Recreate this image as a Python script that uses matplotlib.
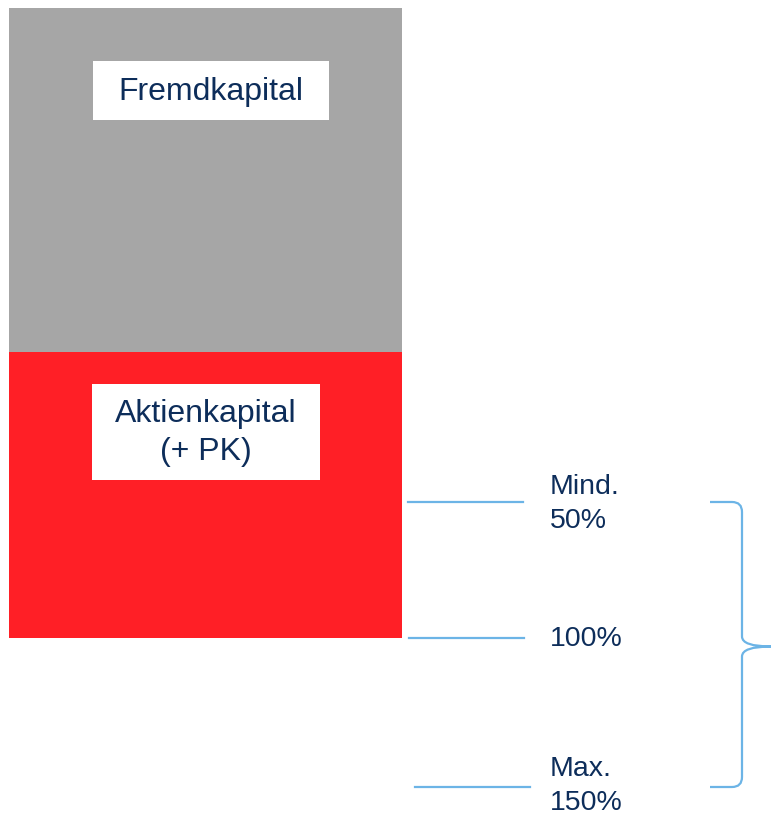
import matplotlib.pyplot as plt
from matplotlib.patches import Rectangle
from matplotlib.path import Path
from matplotlib.patches import PathPatch

plt.rcParams['font.family'] = ['Liberation Sans', 'DejaVu Sans']

# Kapitalblöcke (Höhen in Pixel-Einheiten der Vorlage, von oben nach unten)
bloecke = ['Fremdkapital', 'Aktienkapital\n(+ PK)']
hoehen = [344, 286]
farben = ['#a6a6a6', '#ff1f26']

# Markierungen rechts neben dem Block
marken = ['Mind.\n50%', '100%', 'Max.\n150%']
marken_y = [502, 638, 787]

text_farbe = '#0d2d5a'
linie_farbe = '#6cb4e6'

fig = plt.figure(figsize=(7.71, 8.17), dpi=100)
ax = fig.add_axes([0, 0, 1, 1])
ax.set_xlim(0, 771)
ax.set_ylim(817, 0)
ax.axis('off')

# gestapelte Balken
oben = 8
x0, breite = 9, 393
for name, h, f in zip(bloecke, hoehen, farben):
    ax.bar(x0, h, width=breite, bottom=oben, color=f, align='edge', linewidth=0)
    oben += h

# Beschriftungen mit weißen Boxen
ax.add_patch(Rectangle((93, 61), 236, 59, facecolor='white', edgecolor='none'))
ax.text(211, 92, bloecke[0], ha='center', va='center', fontsize=23, color=text_farbe)
ax.add_patch(Rectangle((92, 384), 228, 96, facecolor='white', edgecolor='none'))
ax.text(206, 433, bloecke[1], ha='center', va='center', fontsize=23, color=text_farbe,
        linespacing=1.38)

# Linien und Prozent-Texte
starts = [408, 409, 415]
versatz = [2, 1, -1]
for m, y, xs, dy in zip(marken, marken_y, starts, versatz):
    ax.plot([xs, xs + 115], [y, y], color=linie_farbe, lw=1.6)
    ax.text(550, y + dy, m, ha='left', va='center', fontsize=20.5, color=text_farbe,
            linespacing=1.4)

# geschweifte Klammer
top, bot = marken_y[0], marken_y[-1]
mid = (top + bot) / 2 + 2
xl, xr, xt = 710, 742, 771
r = 10
verts = [(xl, top), (xr - r, top), (xr, top), (xr, top + r),
         (xr, mid - r), (xr, mid), (xt, mid),
         (xr, mid), (xr, mid + r),
         (xr, bot - r), (xr, bot), (xr - r, bot), (xl, bot)]
codes = [Path.MOVETO, Path.LINETO, Path.CURVE3, Path.CURVE3,
         Path.LINETO, Path.CURVE3, Path.CURVE3,
         Path.CURVE3, Path.CURVE3,
         Path.LINETO, Path.CURVE3, Path.CURVE3, Path.LINETO]
ax.add_patch(PathPatch(Path(verts, codes), facecolor='none', edgecolor=linie_farbe, lw=1.6))

plt.savefig('out.png', dpi=100)
